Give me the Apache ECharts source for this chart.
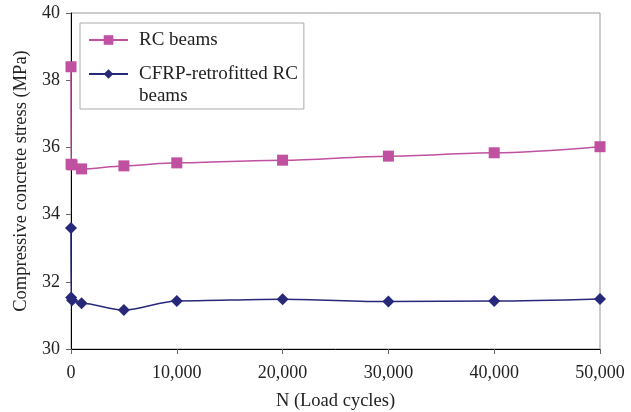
<!DOCTYPE html>
<html><head><meta charset="utf-8">
<script src="https://cdn.jsdelivr.net/npm/echarts@6/dist/echarts.min.js"></script>
<style>html,body{margin:0;padding:0;background:#fff}#c{width:631px;height:412px}</style>
</head><body><div id="c"></div>
<script>
const cycles = [0, 10, 100, 1000, 5000, 10000, 20000, 30000, 40000, 50000];
const rcBeams = [38.4, 35.5, 35.48, 35.36, 35.45, 35.54, 35.62, 35.74, 35.84, 36.02];
const cfrpBeams = [33.6, 31.53, 31.45, 31.36, 31.16, 31.43, 31.48, 31.41, 31.43, 31.49];
const yTicks = [30, 32, 34, 36, 38, 40];
const xTicks = [0, 10000, 20000, 30000, 40000, 50000];
const seriesNames = ['RC beams', 'CFRP-retrofitted RC beams'];

const font = 'Liberation Serif';
const chart = echarts.init(document.getElementById('c'), null, {renderer: 'canvas'});
const fmt = v => String(v).replace(/\B(?=(\d{3})+(?!\d))/g, ',');
chart.setOption({
  animation: false,
  backgroundColor: '#fff',
  textStyle: {fontFamily: font},
  grid: {left: 71, right: 31, top: 13, bottom: 63, show: true, borderColor: '#999', borderWidth: 1,
         containLabel: false, outerBoundsMode: 'none'},
  legend: {
    left: 80, top: 23, orient: 'vertical',
    borderColor: '#aaa', borderWidth: 1, padding: [6, 6, 2, 8],
    itemWidth: 39, itemHeight: 12, itemGap: -10,
    textStyle: {fontFamily: font, fontSize: 19, color: '#222', lineHeight: 22, padding: [0, 0, 0, 6],
                rich: {e: {lineHeight: 22, fontSize: 10}}},
    formatter: n => n === seriesNames[1] ? '{e| }\nCFRP-retrofitted RC\nbeams' : n
  },
  xAxis: {
    type: 'value', min: xTicks[0], max: xTicks[xTicks.length - 1], interval: 10000,
    name: 'N (Load cycles)', nameLocation: 'middle', nameGap: 43,
    nameTextStyle: {fontFamily: font, fontSize: 18.5, color: '#222'},
    axisLine: {lineStyle: {color: '#000', width: 1}},
    axisTick: {show: true, inside: false, length: 5, lineStyle: {color: '#666'}},
    axisLabel: {formatter: fmt, fontFamily: font, fontSize: 18, color: '#222', margin: 15},
    splitLine: {show: false}
  },
  yAxis: {
    type: 'value', min: yTicks[0], max: yTicks[yTicks.length - 1], interval: 2,
    name: 'Compressive concrete stress (MPa)', nameLocation: 'middle', nameGap: 36,
    nameTextStyle: {fontFamily: font, fontSize: 18.5, color: '#222'},
    axisLine: {show: true, lineStyle: {color: '#000', width: 1}},
    axisTick: {show: true, inside: false, length: 5, lineStyle: {color: '#666'}},
    axisLabel: {fontFamily: font, fontSize: 18, color: '#222', margin: 11},
    splitLine: {show: false}
  },
  series: [
    {
      name: seriesNames[0], type: 'line', data: cycles.map((x, i) => [x, rcBeams[i]]),
      smooth: 0.3, smoothMonotone: 'x',
      symbol: 'rect', symbolSize: 11,
      lineStyle: {color: '#C050A0', width: 1.5},
      itemStyle: {color: '#C050A0'}
    },
    {
      name: seriesNames[1], type: 'line', data: cycles.map((x, i) => [x, cfrpBeams[i]]),
      smooth: 0.3, smoothMonotone: 'x',
      symbol: 'diamond', symbolSize: 12,
      lineStyle: {color: '#27287A', width: 1.5},
      itemStyle: {color: '#27287A'}
    }
  ]
});
</script></body></html>
